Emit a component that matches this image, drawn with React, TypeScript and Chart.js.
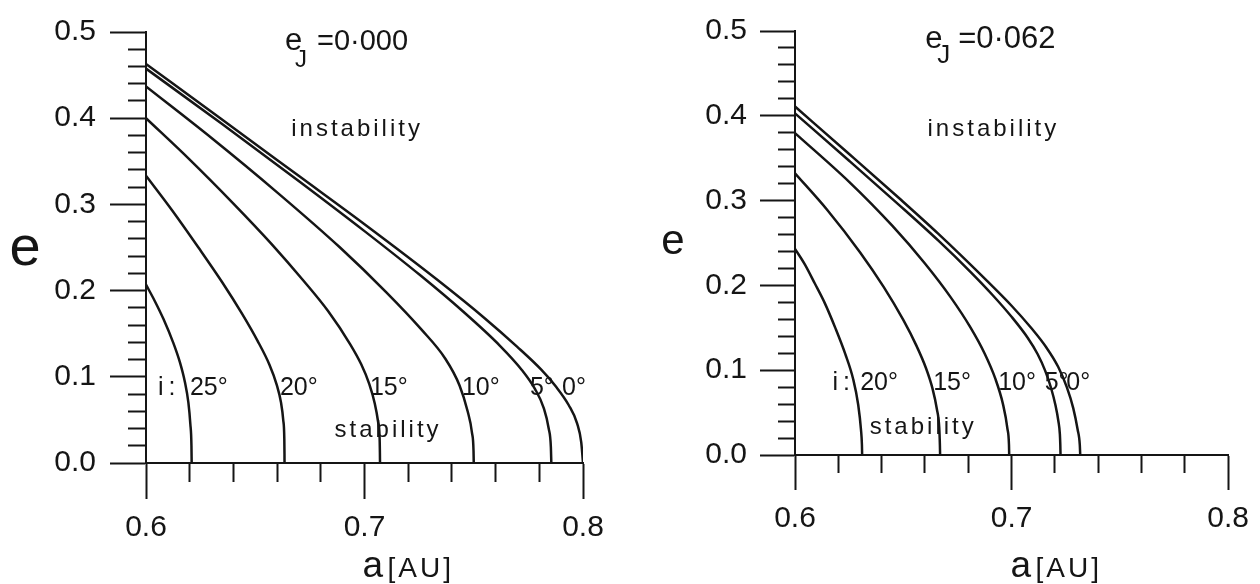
import React, { useEffect, useRef } from 'react';
import { Chart, registerables } from 'chart.js';

Chart.register(...registerables);

type Pt = [number, number];

const FONT = '"Liberation Sans", Arial, sans-serif';
const INK = '#151515';

// ---------- axes ----------
const A_MIN = 0.6;
const A_MAX = 0.8;
const A_STEP = 0.02;
const E_MIN = 0;
const E_MAX = 0.5;
const E_STEP = 0.02;
const MAJOR = 0.1;

// ---------- left panel : e_J = 0.000 ----------
const LEFT_EJ = '0·000';
const LEFT_NAMES = ['0°', '5°', '10°', '15°', '20°', '25°'];
const LEFT_I0: Pt[] = [
  [0.6, 0.463], [0.634, 0.4], [0.6705, 0.332], [0.7, 0.277], [0.7336, 0.212], [0.755, 0.168],
  [0.7698, 0.135], [0.781, 0.108], [0.7875, 0.089], [0.7935, 0.067], [0.7973, 0.046], [0.7992, 0.024], [0.8, 0],
];
const LEFT_I5: Pt[] = [
  [0.6, 0.4575], [0.635, 0.393], [0.6705, 0.326], [0.7, 0.269], [0.7254, 0.218], [0.745, 0.176],
  [0.762, 0.136], [0.772, 0.108], [0.778, 0.086], [0.782, 0.064], [0.7843, 0.04], [0.7853, 0.018], [0.7855, 0],
];
const LEFT_I10: Pt[] = [
  [0.6, 0.4368], [0.63, 0.377], [0.66, 0.314], [0.6888, 0.25], [0.71, 0.198], [0.726, 0.155],
  [0.737, 0.121], [0.7435, 0.09], [0.7472, 0.06], [0.7492, 0.035], [0.7499, 0.014], [0.75, 0],
];
const LEFT_I15: Pt[] = [
  [0.6, 0.4], [0.62, 0.352], [0.64, 0.301], [0.6575, 0.254], [0.6719, 0.212], [0.6834, 0.176],
  [0.6934, 0.138], [0.6985, 0.1145], [0.7022, 0.0916], [0.7047, 0.0691], [0.7062, 0.0481],
  [0.7069, 0.0306], [0.70705, 0.012], [0.7071, 0],
];
const LEFT_I20: Pt[] = [
  [0.6, 0.3333], [0.612, 0.293], [0.624, 0.25], [0.6348, 0.21], [0.644, 0.173], [0.651, 0.142],
  [0.6565, 0.114], [0.6598, 0.091], [0.6618, 0.07], [0.6628, 0.05], [0.6633, 0.028], [0.66338, 0.01], [0.6634, 0],
];
const LEFT_I25: Pt[] = [
  [0.6, 0.2069], [0.604, 0.188], [0.608, 0.167], [0.6124, 0.14], [0.6155, 0.117], [0.6178, 0.094],
  [0.6194, 0.07], [0.6203, 0.045], [0.6208, 0.02], [0.6209, 0],
];
const LEFT_LABELS = ['i:', '25°', '20°', '15°', '10°', '5°', '0°'];
const LEFT_LABEL_A = [0.6055, 0.6201, 0.6613, 0.7025, 0.7446, 0.7757, 0.7904];
const LEFT_LABEL_E = 0.087;

// ---------- right panel : e_J = 0.062 ----------
const RIGHT_EJ = '0·062';
const RIGHT_NAMES = ['0°', '5°', '10°', '15°', '20°'];
const RIGHT_I0: Pt[] = [
  [0.6, 0.4109], [0.625, 0.355], [0.648, 0.303], [0.6661, 0.261], [0.6888, 0.205], [0.7, 0.176],
  [0.709, 0.15], [0.716, 0.127], [0.7215, 0.104], [0.7255, 0.08], [0.7285, 0.055], [0.7305, 0.03],
  [0.7315, 0.012], [0.7317, 0],
];
const RIGHT_I5: Pt[] = [
  [0.6, 0.4028], [0.625, 0.347], [0.648, 0.295], [0.6661, 0.253], [0.681, 0.216], [0.6911, 0.189],
  [0.7, 0.163], [0.7075, 0.138], [0.712, 0.1191], [0.7155, 0.0995], [0.7182, 0.0793], [0.7203, 0.0583],
  [0.7216, 0.0401], [0.7223, 0.0247], [0.7225, 0.012], [0.7226, 0],
];
const RIGHT_I10: Pt[] = [
  [0.6, 0.3796], [0.625, 0.3221], [0.645, 0.2701], [0.66, 0.2258], [0.672, 0.1856], [0.681, 0.1505],
  [0.6875, 0.12], [0.6925, 0.09], [0.696, 0.0603], [0.6981, 0.0309], [0.6988, 0.012], [0.6989, 0],
];
const RIGHT_I15: Pt[] = [
  [0.6, 0.3322], [0.615, 0.2887], [0.63, 0.2392], [0.641, 0.198], [0.65, 0.1593], [0.656, 0.1293],
  [0.6605, 0.1023], [0.6635, 0.0783], [0.6655, 0.0543], [0.6666, 0.0323], [0.6669, 0.012], [0.667, 0],
];
const RIGHT_I20: Pt[] = [
  [0.6, 0.2431], [0.6046, 0.2245], [0.6091, 0.2025], [0.6137, 0.1794], [0.6187, 0.1493], [0.6232, 0.1192],
  [0.6269, 0.0891], [0.6292, 0.059], [0.6305, 0.0289], [0.6309, 0.012], [0.631, 0],
];
const RIGHT_LABELS = ['i:', '20°', '15°', '10°', '5°', '0°'];
const RIGHT_LABEL_A = [0.6173, 0.6301, 0.6638, 0.6938, 0.7153, 0.7253];
const RIGHT_LABEL_E = 0.0845;

// ---------- panel layout ----------
const CANVAS_W = 630;
const CANVAS_H = 584;

type Panel = {
  ej: string;
  names: string[];
  curves: Pt[][];
  labels: string[];
  labelA: number[];
  labelE: number;
  area: { left: number; right: number; top: number; bottom: number };
  tickLength: number;
  minorLength: number;
  yLabelPad: number;
  xLabelPad: number;
  titleAt: Pt;
  eSize: number;
  jSize: number;
  numSize: number;
  jOffset: number;
  jDrop: number;
  eqOffset: number;
  instabAt: Pt;
  stabAt: Pt;
  yTitleSize: number;
  yTitleDx: number;
  yTitleDrop: number;
  xTitleDx: number;
  auOffset: number;
};

const LEFT_PANEL: Panel = {
  ej: LEFT_EJ,
  names: LEFT_NAMES,
  curves: [LEFT_I0, LEFT_I5, LEFT_I10, LEFT_I15, LEFT_I20, LEFT_I25],
  labels: LEFT_LABELS,
  labelA: LEFT_LABEL_A,
  labelE: LEFT_LABEL_E,
  area: { left: 146, right: 583, top: 28, bottom: 463 },
  tickLength: 36,
  minorLength: 18,
  yLabelPad: 14,
  xLabelPad: 11,
  titleAt: [0.6636, 0.4793],
  eSize: 31,
  jSize: 24,
  numSize: 29,
  jOffset: 10,
  jDrop: 17,
  eqOffset: 32,
  instabAt: [0.6966, 0.387],
  stabAt: [0.7108, 0.038],
  yTitleSize: 56,
  yTitleDx: -121,
  yTitleDrop: 17,
  xTitleDx: -2,
  auOffset: 25,
};

const RIGHT_PANEL: Panel = {
  ej: RIGHT_EJ,
  names: RIGHT_NAMES,
  curves: [RIGHT_I0, RIGHT_I5, RIGHT_I10, RIGHT_I15, RIGHT_I20],
  labels: RIGHT_LABELS,
  labelA: RIGHT_LABEL_A,
  labelE: RIGHT_LABEL_E,
  area: { left: 165, right: 604, top: 23, bottom: 455 },
  tickLength: 35,
  minorLength: 17,
  yLabelPad: 13,
  xLabelPad: 11,
  titleAt: [0.6601, 0.4803],
  eSize: 31,
  jSize: 26,
  numSize: 31,
  jOffset: 12,
  jDrop: 15,
  eqOffset: 33,
  instabAt: [0.6916, 0.384],
  stabAt: [0.6592, 0.032],
  yTitleSize: 42,
  yTitleDx: -122,
  yTitleDrop: 11,
  xTitleDx: -1,
  auOffset: 25,
};

const isMajor = (v: number) => Math.abs(v / MAJOR - Math.round(v / MAJOR)) < 1e-6;

function makeTextPlugin(p: Panel) {
  return {
    id: 'panelText',
    afterDraw(chart: any) {
      const ctx: CanvasRenderingContext2D = chart.ctx;
      const xs = chart.scales.x;
      const ys = chart.scales.y;
      const X = (a: number) => xs.getPixelForValue(a);
      const Y = (e: number) => ys.getPixelForValue(e);
      const font = (size: number, spacing = 0) => {
        ctx.font = `${size}px ${FONT}`;
        (ctx as any).letterSpacing = `${spacing}px`;
      };
      ctx.save();
      ctx.fillStyle = INK;

      // title e_J = ...
      ctx.textAlign = 'left';
      ctx.textBaseline = 'alphabetic';
      const tx = X(p.titleAt[0]);
      const ty = Y(p.titleAt[1]);
      font(p.eSize);
      ctx.fillText('e', tx, ty);
      font(p.jSize);
      ctx.fillText('J', tx + p.jOffset, ty + p.jDrop);
      font(p.numSize);
      ctx.fillText('=' + p.ej, tx + p.eqOffset, ty);

      // region labels
      ctx.textAlign = 'center';
      ctx.textBaseline = 'middle';
      font(24, 3);
      ctx.fillText('instability', X(p.instabAt[0]), Y(p.instabAt[1]));
      ctx.fillText('stability', X(p.stabAt[0]), Y(p.stabAt[1]));

      // curve labels
      ctx.textAlign = 'left';
      p.labels.forEach((t, i) => {
        font(25, t === 'i:' ? 5 : 0);
        ctx.fillText(t, X(p.labelA[i]), Y(p.labelE));
      });

      // y axis title
      ctx.textAlign = 'center';
      ctx.textBaseline = 'alphabetic';
      font(p.yTitleSize);
      ctx.fillText('e', chart.chartArea.left + p.yTitleDx, Y(0.25) + p.yTitleDrop);

      // x axis title
      ctx.textAlign = 'left';
      const ax = X(0.7) + p.xTitleDx;
      const base = chart.height - 7;
      font(37);
      ctx.fillText('a', ax, base);
      font(28, 3);
      ctx.fillText('[AU]', ax + p.auOffset, base);

      ctx.restore();
    },
  };
}

function buildConfig(p: Panel): any {
  const tickLabel = (v: any) => (isMajor(Number(v)) ? Number(v).toFixed(1) : '');
  const tickFont = { family: FONT, size: 30 };
  return {
    type: 'line',
    data: {
      datasets: p.curves.map((c, i) => ({
        label: p.names[i],
        data: c.map(([a, e]) => ({ x: a, y: e })),
        borderColor: INK,
        borderWidth: 2.5,
        pointRadius: 0,
        pointHoverRadius: 0,
        cubicInterpolationMode: 'monotone',
        fill: false,
      })),
    },
    options: {
      responsive: false,
      animation: false,
      events: [],
      layout: {
        padding: { top: p.area.top, right: CANVAS_W - p.area.right, left: 0, bottom: 0 },
      },
      plugins: {
        legend: { display: false },
        tooltip: { enabled: false },
        title: { display: false },
      },
      scales: {
        x: {
          type: 'linear',
          min: A_MIN,
          max: A_MAX,
          afterFit: (s: any) => {
            s.height = CANVAS_H - p.area.bottom;
          },
          border: { display: true, color: INK, width: 2 },
          grid: {
            display: true,
            drawOnChartArea: false,
            drawTicks: true,
            tickLength: p.tickLength,
            tickWidth: 2,
            tickColor: INK,
            tickBorderDash: (c: any) =>
              c.tick && !isMajor(c.tick.value) ? [p.minorLength, 300] : [],
          },
          ticks: {
            stepSize: A_STEP,
            autoSkip: false,
            maxRotation: 0,
            minRotation: 0,
            padding: p.xLabelPad,
            color: INK,
            font: tickFont,
            callback: tickLabel,
          },
        },
        y: {
          type: 'linear',
          min: E_MIN,
          max: E_MAX,
          afterFit: (s: any) => {
            s.width = p.area.left;
          },
          border: { display: true, color: INK, width: 2 },
          grid: {
            display: true,
            drawOnChartArea: false,
            drawTicks: true,
            tickLength: p.tickLength,
            tickWidth: 2,
            tickColor: INK,
            tickBorderDash: (c: any) =>
              c.tick && !isMajor(c.tick.value)
                ? [p.minorLength, p.tickLength - p.minorLength]
                : [],
            tickBorderDashOffset: (c: any) =>
              c.tick && !isMajor(c.tick.value) ? p.minorLength : 0,
          },
          ticks: {
            stepSize: E_STEP,
            autoSkip: false,
            padding: p.yLabelPad,
            color: INK,
            font: tickFont,
            callback: tickLabel,
          },
        },
      },
    },
    plugins: [makeTextPlugin(p)],
  };
}

function PanelChart({ panel }: { panel: Panel }) {
  const ref = useRef<HTMLCanvasElement>(null);
  useEffect(() => {
    if (!ref.current) return;
    const chart = new Chart(ref.current, buildConfig(panel));
    return () => chart.destroy();
  }, [panel]);
  return (
    <canvas
      ref={ref}
      width={CANVAS_W}
      height={CANVAS_H}
      style={{ display: 'block', width: CANVAS_W, height: CANVAS_H }}
    />
  );
}

export default function App() {
  return (
    <div
      style={{
        position: 'absolute',
        left: 0,
        top: 0,
        width: CANVAS_W * 2,
        height: CANVAS_H,
        display: 'flex',
        background: '#fff',
      }}
    >
      <PanelChart panel={LEFT_PANEL} />
      <PanelChart panel={RIGHT_PANEL} />
    </div>
  );
}
